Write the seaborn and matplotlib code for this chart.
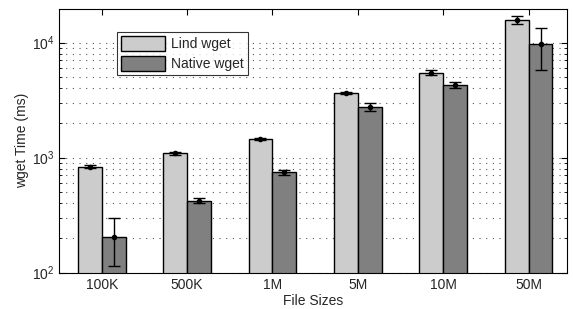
import numpy as np
import pandas as pd
import seaborn as sns
import matplotlib.pyplot as plt
from matplotlib.ticker import LogLocator, NullFormatter

sizes = ['100K', '500K', '1M', '5M', '10M', '50M']
lind = [835, 1090, 1445, 3630, 5480, 15700]
lind_lo = [25, 30, 35, 80, 260, 1150]
lind_hi = [25, 30, 35, 80, 250, 1300]
native = [205, 422, 746, 2770, 4270, 9690]
native_lo = [91, 22, 35, 230, 250, 3870]
native_hi = [92, 22, 35, 230, 280, 3650]

df = pd.DataFrame({
    'size': sizes * 2,
    'time': lind + native,
    'kind': ['Lind wget'] * 6 + ['Native wget'] * 6,
})

sns.set_style('white')
plt.rcParams['font.family'] = ['Liberation Sans', 'DejaVu Sans']

fig = plt.figure(figsize=(5.73, 3.09), dpi=100)
ax = fig.add_axes([0.103, 0.1175, 0.8865, 0.8535])

sns.barplot(data=df, x='size', y='time', hue='kind', order=sizes,
            palette=['#cccccc', '#808080'], width=0.56, gap=0,
            edgecolor='black', linewidth=1, errorbar=None, ax=ax, zorder=2)
ax.set_yscale('log')

# error bars on top of each bar
n = len(sizes)
patches = ax.patches[:2 * n]
for i, p in enumerate(patches):
    xc = p.get_x() + p.get_width() / 2
    if i < n:
        y, lo, hi = lind[i], lind_lo[i], lind_hi[i]
    else:
        y, lo, hi = native[i - n], native_lo[i - n], native_hi[i - n]
    ax.errorbar(xc, y, yerr=[[lo], [hi]], fmt='o', color='black',
                markersize=3, capsize=4, elinewidth=1, capthick=1, zorder=3)

ax.set_ylim(100, 19600)
ax.set_xlim(-0.5, 5.45)
ax.yaxis.set_major_locator(LogLocator(base=10))
ax.yaxis.set_minor_locator(LogLocator(base=10, subs=np.arange(2, 10)))
ax.yaxis.set_minor_formatter(NullFormatter())
ax.grid(True, axis='y', which='both', linestyle=(0, (1, 5)), color='#555555',
        linewidth=0.8, zorder=0)
ax.set_axisbelow(True)

ax.tick_params(axis='both', which='both', direction='in', top=True, right=True,
               left=True, bottom=True, labelsize=10, color='black')
ax.tick_params(which='major', length=4)
ax.tick_params(which='minor', length=2)
for s in ax.spines.values():
    s.set_color('black')
    s.set_linewidth(0.8)

ax.set_xlabel('File Sizes', fontsize=10, labelpad=1.5)
ax.set_ylabel('wget Time (ms)', fontsize=10, labelpad=2)

leg = ax.legend(loc='upper left', bbox_to_anchor=(0.1, 0.94), fontsize=10,
                frameon=True, fancybox=False, edgecolor='black',
                handlelength=3.2, handleheight=1.3, borderpad=0.3,
                labelspacing=0.35, handletextpad=0.4)
leg.get_frame().set_linewidth(0.8)

fig.savefig('out.png', dpi=100)
